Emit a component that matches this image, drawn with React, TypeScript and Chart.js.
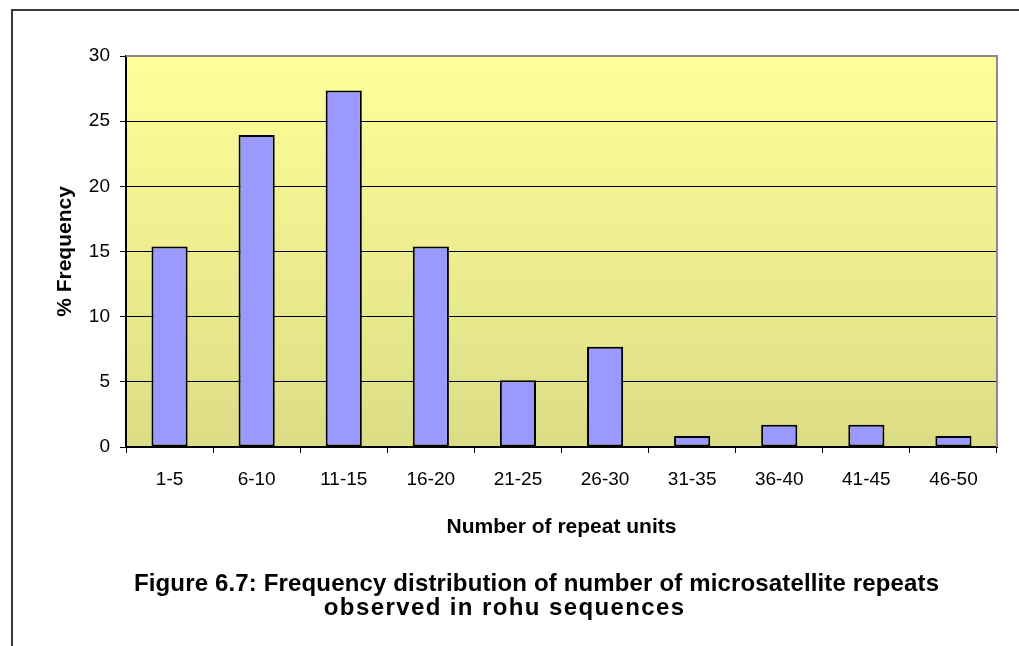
import React, { useEffect, useRef } from "react";
import { Chart, registerables } from "chart.js";

Chart.register(...registerables);

const categories = ["1-5", "6-10", "11-15", "16-20", "21-25", "26-30", "31-35", "36-40", "41-45", "46-50"];
const frequency = [15.38, 23.93, 27.35, 15.38, 5.13, 7.69, 0.85, 1.71, 1.71, 0.85];
const yTicks = [0, 5, 10, 15, 20, 25, 30];
const captionLines = [
  "Figure 6.7: Frequency distribution of number of microsatellite repeats",
  "observed in rohu sequences",
];

const FONT = "'Liberation Sans', Arial, sans-serif";

function drawCentered(ctx: any, text: string, cx: number, y: number, spacing: number) {
  ctx.letterSpacing = `${spacing}px`;
  const w = ctx.measureText(text).width - spacing;
  ctx.textAlign = "left";
  ctx.fillText(text, cx - w / 2, y);
  ctx.letterSpacing = "0px";
}

const decorPlugin = {
  id: "decor",
  beforeDraw(chart: any) {
    const { ctx, chartArea } = chart;
    const { left, top, right, bottom } = chartArea;
    ctx.save();
    const g = ctx.createLinearGradient(0, top, 0, bottom);
    g.addColorStop(0, "#FFFF99");
    g.addColorStop(1, "#DCDC86");
    ctx.fillStyle = g;
    ctx.fillRect(left, top, right - left, bottom - top);
    // outer frame
    ctx.strokeStyle = "#3a3a3a";
    ctx.lineWidth = 2;
    ctx.beginPath();
    ctx.moveTo(12, 646);
    ctx.lineTo(12, 10);
    ctx.lineTo(1019, 10);
    ctx.stroke();
    ctx.restore();
  },
  beforeDatasetsDraw(chart: any) {
    const { ctx, chartArea } = chart;
    const { left, top, right, bottom } = chartArea;
    ctx.save();
    ctx.strokeStyle = "#8a8a8a";
    ctx.lineWidth = 2;
    ctx.beginPath();
    ctx.moveTo(left, top);
    ctx.lineTo(right, top);
    ctx.lineTo(right, bottom);
    ctx.stroke();
    ctx.restore();
  },
  afterDraw(chart: any) {
    const { ctx } = chart;
    ctx.save();
    ctx.fillStyle = "#000";
    ctx.font = `bold 24px ${FONT}`;
    ctx.textBaseline = "alphabetic";
    drawCentered(ctx, captionLines[0], 536.5, 591, 0.15);
    drawCentered(ctx, captionLines[1], 504, 615, 1.4);
    ctx.restore();
  },
};

export default function App() {
  const ref = useRef<HTMLCanvasElement | null>(null);
  useEffect(() => {
    if (!ref.current) return;
    const chart = new Chart(ref.current, {
      type: "bar",
      data: {
        labels: categories,
        datasets: [
          {
            data: frequency,
            backgroundColor: "#9999FF",
            borderColor: "#000000",
            borderWidth: 2,
            borderSkipped: false,
            barPercentage: 0.415,
            categoryPercentage: 1,
          },
        ],
      },
      options: {
        animation: false,
        responsive: false,
        devicePixelRatio: 1,
        layout: { padding: { top: 56, right: 22, bottom: 106, left: 0 } },
        plugins: {
          legend: { display: false },
          tooltip: { enabled: false },
          title: { display: false },
        },
        scales: {
          x: {
            grid: {
              display: true,
              drawOnChartArea: false,
              drawTicks: true,
              tickLength: 6,
              tickColor: "#000",
              offset: true,
            },
            border: { color: "#000", width: 2 },
            ticks: {
              color: "#000",
              font: { family: FONT, size: 19 },
              padding: 15,
              maxRotation: 0,
              autoSkip: false,
            },
            title: {
              display: true,
              text: "Number of repeat units",
              color: "#000",
              font: { family: FONT, size: 21, weight: "bold" },
              padding: 0,
            },
            afterFit: (s: any) => {
              s.height = 93;
            },
          },
          y: {
            min: 0,
            max: 30,
            afterBuildTicks: (s: any) => {
              s.ticks = yTicks.map((v) => ({ value: v }));
            },
            grid: {
              color: (c: any) => (c.tick && c.tick.value === 30 ? "rgba(0,0,0,0)" : "#000"),
              lineWidth: 1,
              tickLength: 6,
              tickColor: "#000",
            },
            border: { color: "#000", width: 2 },
            ticks: {
              color: "#000",
              font: { family: FONT, size: 19 },
              padding: 10,
            },
            title: {
              display: true,
              text: "% Frequency",
              color: "#000",
              font: { family: FONT, size: 21, weight: "bold" },
              padding: { top: 53, bottom: 0 },
            },
            afterFit: (s: any) => {
              s.width = 126;
            },
          },
        },
      },
      plugins: [decorPlugin],
    });
    return () => chart.destroy();
  }, []);
  return (
    <div style={{ position: "fixed", left: 0, top: 0, width: 1019, height: 646, background: "#fff" }}>
      <canvas ref={ref} width={1019} height={646} />
    </div>
  );
}
